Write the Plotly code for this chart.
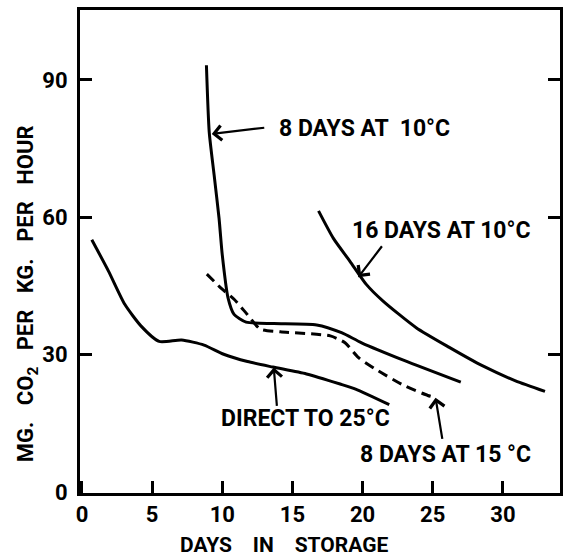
import plotly.graph_objects as go

# ---- data ----
direct_x = [0.7, 1.9, 3.05, 4.2, 5.5, 7.1, 8.7, 10.1, 11.8, 13.6, 16.0, 18.4, 19.5, 21.9]
direct_y = [55.1, 48.2, 41.0, 36.3, 32.9, 33.2, 32.1, 30.1, 28.5, 27.3, 25.8, 23.6, 22.5, 19.1]

d10_x = [8.87, 9.07, 9.42, 9.77, 10.0, 10.41, 10.84, 11.7, 13.67, 16.73, 18.5, 19.93, 23.0, 27.0]
d10_y = [93.2, 78.6, 69.2, 59.8, 51.8, 42.4, 38.8, 37.1, 36.8, 36.5, 34.8, 32.6, 28.7, 24.0]

d15_x = [8.9, 9.89, 10.84, 11.78, 12.7, 14.14, 17.7, 18.75, 19.69, 21.1, 23.0, 24.65, 25.0]
d15_y = [47.6, 44.6, 42.1, 38.8, 35.6, 35.0, 34.1, 32.6, 29.4, 26.5, 23.2, 21.1, 20.8]

d16_x = [16.86, 17.92, 19.1, 20.28, 21.46, 23.82, 26.18, 28.53, 30.9, 33.0]
d16_y = [61.4, 55.4, 50.4, 45.3, 41.7, 35.9, 31.6, 27.6, 24.3, 22.0]

x_ticks = [0, 5, 10, 15, 20, 25, 30]
y_ticks = [0, 30, 60, 90]

labels = ["8 DAYS AT  10°C", "16 DAYS AT 10°C", "DIRECT TO 25°C", "8 DAYS AT 15 °C"]
label_pos = [(13.88, 79.3), (19.1, 57.2), (9.77, 16.0), (19.68, 8.3)]
arrow_tip = [(9.25, 78.2), (19.69, 46.9), (13.67, 27.2), (25.2, 20.6)]
arrow_tail = [(13.1, 79.6), (21.46, 54.0), (13.9, 18.5), (25.7, 11.3)]

FONT = "Roboto"
INK = "black"
SP = "\u00a0\u00a0\u00a0"
SP4 = "\u00a0\u00a0\u00a0\u00a0"

fig = go.Figure()
line_style = dict(color=INK, width=3, shape="spline", smoothing=0.6)
fig.add_trace(go.Scatter(x=direct_x, y=direct_y, mode="lines", line=line_style))
fig.add_trace(go.Scatter(x=d10_x, y=d10_y, mode="lines", line=line_style))
fig.add_trace(go.Scatter(x=d16_x, y=d16_y, mode="lines", line=line_style))
fig.add_trace(go.Scatter(x=d15_x, y=d15_y, mode="lines",
                         line=dict(color=INK, width=3, dash="10px,6px", shape="spline", smoothing=0.6)))

for txt, (lx, ly) in zip(labels, label_pos):
    fig.add_annotation(x=lx, y=ly, xref="x", yref="y", text=txt, showarrow=False,
                       xanchor="left", yanchor="middle",
                       font=dict(family=FONT, size=23, color=INK, weight="bold"))

for (tx, ty), (sx, sy) in zip(arrow_tip, arrow_tail):
    fig.add_annotation(x=tx, y=ty, ax=sx, ay=sy, xref="x", yref="y", axref="x", ayref="y",
                       text="", showarrow=True, arrowhead=4, arrowsize=1.3, arrowwidth=2.2,
                       arrowcolor=INK, standoff=0, startstandoff=0)

fig.add_annotation(x=-0.11, y=0.412, xref="paper", yref="paper",
                   text=f"MG.{SP}CO<sub>2</sub>{SP}PER{SP}KG.{SP}PER{SP}HOUR", textangle=-90,
                   showarrow=False, xanchor="center", yanchor="middle",
                   font=dict(family=FONT, size=22, color=INK, weight="bold"))
fig.add_annotation(x=0.4244, y=-0.108, xref="paper", yref="paper",
                   text=f"DAYS{SP4}IN{SP4}STORAGE",
                   showarrow=False, xanchor="center", yanchor="middle",
                   font=dict(family=FONT, size=21, color=INK, weight="bold"))

axis_common = dict(showgrid=False, zeroline=False, showline=True, linecolor=INK, linewidth=3,
                   ticks="inside", ticklen=12, tickwidth=2.5, tickcolor=INK,
                   tickfont=dict(family=FONT, size=22, color=INK, weight="bold"))

fig.update_xaxes(range=[-0.14, 34.07], tickvals=x_ticks, ticktext=[str(v) for v in x_ticks],
                 mirror=True, **axis_common)
fig.update_yaxes(range=[-0.2, 105.27], tickvals=y_ticks, ticktext=[str(v) for v in y_ticks],
                 mirror="ticks", ticklabelstandoff=5, **axis_common)

fig.update_layout(width=570, height=556, showlegend=False,
                  margin=dict(l=80, r=7, t=7, b=63),
                  paper_bgcolor="white", plot_bgcolor="white")

fig.write_html("out.html", config={"displayModeBar": False},
               post_script="document.body.style.margin='0';")
